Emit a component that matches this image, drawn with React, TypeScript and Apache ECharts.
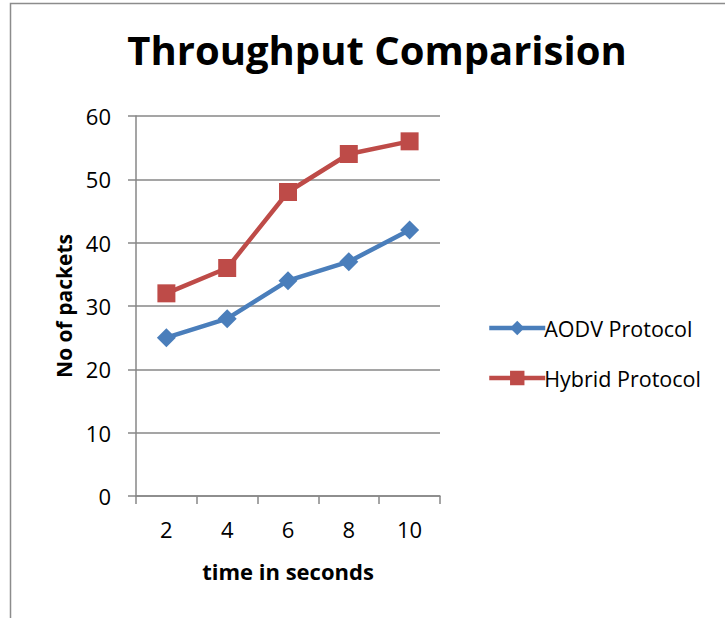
import React, { useEffect, useRef } from "react";
import * as echarts from "echarts";

const categories = ["2", "4", "6", "8", "10"];
const aodv = [25, 28, 34, 37, 42];
const hybrid = [32, 36, 48, 54, 56];
const seriesNames = ["AODV Protocol", "Hybrid Protocol"];

export default function App() {
  const ref = useRef<HTMLDivElement>(null);
  useEffect(() => {
    const chart = echarts.init(ref.current!, null, { renderer: "svg" });
    const font = "'Open Sans', 'Liberation Sans', sans-serif";
    chart.setOption({
      animation: false,
      backgroundColor: "#ffffff",
      textStyle: { fontFamily: font },
      title: {
        text: "Throughput Comparision",
        left: 372,
        textAlign: "center",
        top: 24,
        textStyle: { fontSize: 40, fontWeight: "bold", color: "#000", fontFamily: font },
      },
      graphic: [
        {
          type: "polyline",
          shape: { points: [[10.5, 618], [10.5, 3.5], [725, 3.5]] },
          style: { stroke: "#8c8c8c", lineWidth: 1.5, fill: "none" },
        },
      ],
      legend: {
        orient: "vertical",
        left: 482,
        top: 312,
        itemWidth: 56,
        itemHeight: 18,
        itemGap: 28,
        lineStyle: { width: 4.5 },
        textStyle: { fontSize: 21.5, color: "#000", fontFamily: font, padding: [0, 0, 0, -6] },
        data: seriesNames,
      },
      grid: { left: 136, right: 285, top: 116, bottom: 122 },
      xAxis: {
        type: "category",
        data: categories,
        boundaryGap: true,
        name: "time in seconds",
        nameLocation: "middle",
        nameGap: 64,
        nameTextStyle: { fontSize: 22, fontWeight: "bold", color: "#000", fontFamily: font },
        axisLine: { lineStyle: { color: "#878787", width: 1.5 } },
        axisTick: { show: true, length: 8, alignWithLabel: false, lineStyle: { color: "#878787", width: 1.5 } },
        axisLabel: { fontSize: 22, color: "#000", margin: 22, fontFamily: font },
      },
      yAxis: {
        type: "value",
        min: 0,
        max: 60,
        interval: 10,
        name: "No of packets",
        nameLocation: "middle",
        nameGap: 62,
        nameTextStyle: { fontSize: 21, fontWeight: "bold", color: "#000", fontFamily: font },
        axisLine: { show: true, lineStyle: { color: "#878787", width: 1.5 } },
        axisTick: { show: true, length: 8, lineStyle: { color: "#878787", width: 1.5 } },
        axisLabel: { fontSize: 22, color: "#000", margin: 25, fontFamily: font },
        splitLine: { lineStyle: { color: "#878787", width: 1.5 } },
      },
      series: [
        {
          name: seriesNames[0],
          type: "line",
          data: aodv,
          symbol: "diamond",
          symbolSize: 19,
          lineStyle: { color: "#4a7ebb", width: 4.5 },
          itemStyle: { color: "#4a7ebb" },
        },
        {
          name: seriesNames[1],
          type: "line",
          data: hybrid,
          symbol: "rect",
          symbolSize: 18,
          lineStyle: { color: "#be4b48", width: 4.5 },
          itemStyle: { color: "#be4b48" },
        },
      ],
    });
    return () => chart.dispose();
  }, []);
  return (
    <div
      ref={ref}
      style={{ position: "absolute", left: 0, top: 0, width: 725, height: 618 }}
    />
  );
}
